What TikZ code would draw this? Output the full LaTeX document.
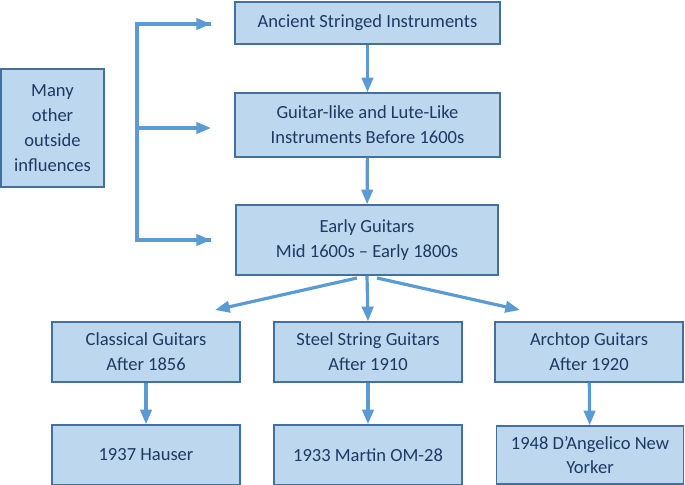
\documentclass[tikz,border=0pt]{standalone}
\usepackage{fontspec}
\setmainfont{Carlito}
\usetikzlibrary{arrows.meta}
\definecolor{boxfill}{HTML}{BDD7EE}
\definecolor{boxline}{HTML}{41719C}
\definecolor{arrowc}{HTML}{5B9BD5}
\definecolor{txt}{HTML}{1F3864}
\begin{document}
\begin{tikzpicture}[x=0.75pt,y=-0.75pt,
  box/.style={draw=boxline,line width=1.1pt,fill=boxfill,text=txt,align=center,
    font=\fontsize{13.9}{18.6}\selectfont,inner sep=0pt},
  arr/.style={draw=arrowc,line width=2.4pt,-{Triangle[length=11pt,width=8.5pt]}},
  brk/.style={draw=arrowc,line width=2.4pt}]
\useasboundingbox (0,0) rectangle (685,485);
\node[box,minimum width=265*0.75pt,minimum height=42*0.75pt] (A) at (367.5,23) {Ancient Stringed Instruments};
\node[box,minimum width=265*0.75pt,minimum height=64*0.75pt] (B) at (367.5,125) {Guitar-like and Lute-Like\\Instruments Before 1600s};
\node[box,minimum width=262*0.75pt,minimum height=70*0.75pt] (C) at (367,240) {Early Guitars\\Mid 1600s -- Early 1800s};
\node[box,minimum width=103*0.75pt,minimum height=118*0.75pt] (M) at (52.5,128) {Many\\other\\outside\\influences};
\node[box,minimum width=188*0.75pt,minimum height=60*0.75pt] (CG) at (146,352) {Classical Guitars\\After 1856};
\node[box,minimum width=188*0.75pt,minimum height=60*0.75pt] (SG) at (368,352) {Steel String Guitars\\After 1910};
\node[box,minimum width=188*0.75pt,minimum height=60*0.75pt] (AG) at (589,352) {Archtop Guitars\\After 1920};
\node[box,minimum width=188*0.75pt,minimum height=60*0.75pt] (H) at (146,455) {1937 Hauser};
\node[box,minimum width=188*0.75pt,minimum height=60*0.75pt] (MO) at (368,455) {1933 Martin OM-28};
\node[box,minimum width=187*0.75pt,minimum height=58*0.75pt] (DA) at (590,455) {1948 D’Angelico New\\Yorker};
% vertical arrows
\draw[arr] (A) -- (B);
\draw[arr] (B) -- (C);
\draw[arr] (C.south) -- (SG.north);
\draw[arr] (CG) -- (H);
\draw[arr] (SG) -- (MO);
\draw[arr] (AG) -- (DA);
% diagonal arrows
\coordinate (cl) at (357,278);
\coordinate (cr) at (377,278);
\coordinate (tl) at (215,310);
\coordinate (tr) at (520,310);
\draw[arr] (cl) -- (tl);
\draw[arr] (cr) -- (tr);
% bracket
\coordinate (b1) at (137,24);
\coordinate (b2) at (137,128);
\coordinate (b3) at (137,240);
\coordinate (e1) at (211,24);
\coordinate (e2) at (211,128);
\coordinate (e3) at (211,240);
\draw[brk,line join=miter] (e1) -- (b1) -- (b3) -- (e3);
\draw[arr] (b1) -- (e1);
\draw[arr] (b2) -- (e2);
\draw[arr] (b3) -- (e3);
\end{tikzpicture}
\end{document}
